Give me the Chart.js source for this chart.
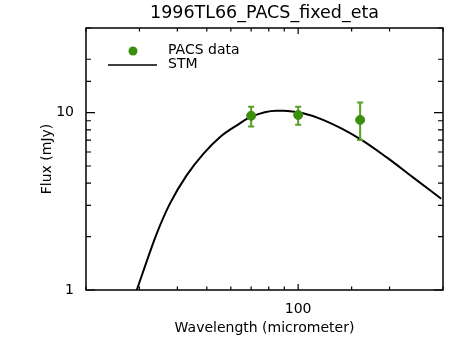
<!DOCTYPE html>
<html>
<head>
<meta charset="utf-8">
<script src="https://cdn.jsdelivr.net/npm/chart.js@4"></script>
<style>
  html, body { margin: 0; padding: 0; background: #fff; }
  #wrap { width: 469px; height: 346px; }
</style>
</head>
<body>
<div id="wrap"><canvas id="myChart" width="469" height="346"></canvas></div>
<script>
// data block
const chartTitle = "1996TL66_PACS_fixed_eta";
const xTitle = "Wavelength (micrometer)";
const yTitle = "Flux (mJy)";

// PACS photometry (micrometer, mJy)
const pacsWave = [70, 100, 160];
const pacsFlux = [9.6, 9.7, 9.1];
const pacsErrLow = [8.35, 8.55, 7.0];
const pacsErrHigh = [10.8, 10.8, 11.4];

// STM model curve
const stmWave = [29.4, 34.2, 37.8, 42.9, 48.7, 55.2, 62.6, 70.1, 84.7, 89.3, 103.8, 120.8, 159.7, 195.3, 238.3, 296];
const stmFlux = [1.0, 2.08, 3.07, 4.43, 5.86, 7.27, 8.45, 9.49, 10.26, 10.26, 9.91, 9.1, 7.12, 5.61, 4.33, 3.27];

// axis ranges and labelled ticks
const xRange = [20, 300];
const yRange = [1, 30];
const xLabels = [100];
const yLabels = [1, 10];

const green = "#3b8e0e";
const errGreen = "#56a024";
const fontFam = "'DejaVu Sans', sans-serif";

Chart.defaults.color = "#000";
Chart.defaults.font.family = fontFam;

// error bars, drawn just before the PACS points
const errorBars = {
  id: "errorBars",
  beforeDatasetDraw(chart, args) {
    if (args.index !== 0) return;
    const { ctx, scales } = chart;
    ctx.save();
    ctx.strokeStyle = errGreen;
    ctx.lineWidth = 2;
    pacsWave.forEach((w, i) => {
      const x = scales.x.getPixelForValue(w);
      const y1 = scales.y.getPixelForValue(pacsErrLow[i]);
      const y2 = scales.y.getPixelForValue(pacsErrHigh[i]);
      ctx.beginPath();
      ctx.moveTo(x, y1); ctx.lineTo(x, y2);
      ctx.moveTo(x - 3, y1); ctx.lineTo(x + 3, y1);
      ctx.moveTo(x - 3, y2); ctx.lineTo(x + 3, y2);
      ctx.stroke();
    });
    ctx.restore();
  },
};

// IDL style frame with inward ticks, title over the plot box, legend
const frame = {
  id: "frame",
  afterDraw(chart) {
    const { ctx, chartArea: a, scales } = chart;
    ctx.save();
    ctx.strokeStyle = "#000";
    ctx.lineWidth = 1.5;
    ctx.strokeRect(a.left, a.top, a.right - a.left, a.bottom - a.top);
    ctx.lineWidth = 1.2;
    ctx.beginPath();
    scales.y.ticks.forEach((t) => {
      const y = scales.y.getPixelForValue(t.value);
      const major = Number.isInteger(Math.log10(t.value));
      const len = major ? 9 : 5;
      ctx.moveTo(a.left, y); ctx.lineTo(a.left + len, y);
      ctx.moveTo(a.right, y); ctx.lineTo(a.right - len, y);
    });
    scales.x.ticks.forEach((t) => {
      const x = scales.x.getPixelForValue(t.value);
      const major = Number.isInteger(Math.log10(t.value));
      const len = major ? 6 : 3.5;
      ctx.moveTo(x, a.bottom); ctx.lineTo(x, a.bottom - len);
      ctx.moveTo(x, a.top); ctx.lineTo(x, a.top + len);
    });
    ctx.stroke();

    // title
    ctx.fillStyle = "#000";
    ctx.font = "17.5px " + fontFam;
    ctx.textAlign = "center";
    ctx.textBaseline = "middle";
    ctx.fillText(chartTitle, (a.left + a.right) / 2, 13);

    // legend
    const ds = chart.data.datasets;
    ctx.fillStyle = green;
    ctx.beginPath();
    ctx.arc(133, 51, 4.5, 0, Math.PI * 2);
    ctx.fill();
    ctx.strokeStyle = "#000";
    ctx.lineWidth = 1.5;
    ctx.beginPath();
    ctx.moveTo(108, 65); ctx.lineTo(157, 65);
    ctx.stroke();
    ctx.fillStyle = "#000";
    ctx.font = "14px " + fontFam;
    ctx.textAlign = "left";
    ctx.fillText(ds[0].label, 168, 50);
    ctx.fillText(ds[1].label, 168, 64);
    ctx.restore();
  },
};

const data = {
  datasets: [
    {
      label: "PACS data",
      data: pacsWave.map((w, i) => ({ x: w, y: pacsFlux[i] })),
      backgroundColor: green,
      borderColor: green,
      pointRadius: 4.5,
      pointHoverRadius: 4.5,
      showLine: false,
    },
    {
      label: "STM",
      data: stmWave.map((w, i) => ({ x: w, y: stmFlux[i] })),
      borderColor: "#000",
      borderWidth: 2,
      pointRadius: 0,
      showLine: true,
      cubicInterpolationMode: "monotone",
    },
  ],
};

const config = {
  type: "scatter",
  data: data,
  options: {
    responsive: false,
    animation: false,
    events: [],
    layout: { padding: { left: 0, right: 26, top: 28, bottom: 0 } },
    plugins: {
      legend: { display: false },
      tooltip: { enabled: false },
      title: { display: false },
    },
    scales: {
      x: {
        type: "logarithmic",
        min: xRange[0],
        max: xRange[1],
        grid: { display: false },
        border: { display: false },
        ticks: {
          autoSkip: false,
          maxRotation: 0,
          padding: 3,
          font: { size: 14 },
          callback: (v) => (xLabels.includes(v) ? String(v) : ""),
        },
        title: {
          display: true,
          text: xTitle,
          font: { size: 14 },
          padding: { top: 0, bottom: 9 },
        },
        afterFit: (s) => { s.height = 56; },
      },
      y: {
        type: "logarithmic",
        min: yRange[0],
        max: yRange[1],
        grid: { display: false },
        border: { display: false },
        ticks: {
          autoSkip: false,
          padding: 4,
          font: { size: 14 },
          callback: (v) => (yLabels.includes(v) ? String(v) : ""),
        },
        title: {
          display: true,
          text: yTitle,
          font: { size: 14 },
          padding: { top: 39, bottom: 0 },
        },
        afterFit: (s) => { s.width = 86; },
      },
    },
  },
  plugins: [errorBars, frame],
};

const myChart = new Chart(document.getElementById("myChart"), config);
</script>
</body>
</html>
